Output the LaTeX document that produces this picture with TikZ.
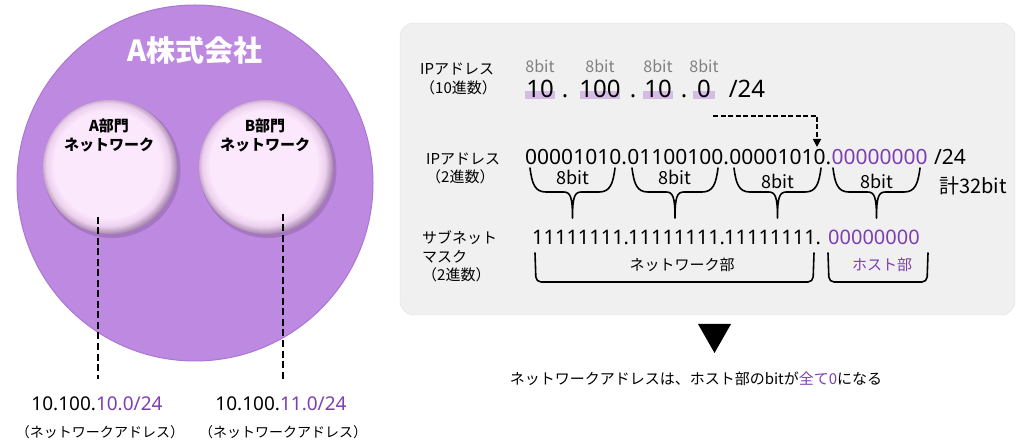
\documentclass[tikz,border=0pt]{standalone}
\usepackage{fontspec}
\setmainfont{Noto Sans CJK JP}
\newfontfamily\numfont{Noto Sans}
\usetikzlibrary{arrows.meta,positioning}

\newcommand{\pxfont}[2]{\fontsize{#1bp}{#2bp}\selectfont}

\definecolor{corp}{RGB}{190,137,225}
\definecolor{corpedge}{RGB}{172,118,212}
\definecolor{deptin}{RGB}{252,232,252}
\definecolor{deptmid}{RGB}{236,208,238}
\definecolor{deptrim}{RGB}{172,142,178}
\definecolor{hostpurple}{RGB}{125,62,178}
\definecolor{octbar}{RGB}{212,188,228}
\definecolor{panelgray}{RGB}{240,240,240}

\pgfdeclareradialshading{deptball}{\pgfpoint{-1.5bp}{1.5bp}}{color(0bp)=(deptin); color(20bp)=(deptin); color(23bp)=(deptmid); color(25.5bp)=(deptrim); color(50bp)=(deptrim)}

\begin{document}
\begin{tikzpicture}[x=1bp, y=-1bp,
	every node/.style={inner sep=0pt},
	deptlab/.style={font=\pxfont{15}{19}\bfseries, align=center},
	rowlab/.style={font=\pxfont{15}{18.5}, align=left, anchor=west},
	addr/.style={font=\numfont\pxfont{19}{22}},
	addrnote/.style={font=\pxfont{14}{17}},
	decnum/.style={font=\numfont\pxfont{24}{28}, anchor=base},
	smallbit/.style={font=\pxfont{16}{18}, text=black!50},
	binbits/.style={font=\numfont\pxfont{21}{24}, anchor=base west},
	bitlab/.style={font=\pxfont{18}{22}, anchor=base},
	partlab/.style={font=\pxfont{15}{18}},
	netline/.style={dash pattern=on 7bp off 3.5bp, line width=1.8bp},
	arrowline/.style={dash pattern=on 5bp off 2.5bp, line width=1.6bp, -{Triangle[length=8bp, width=8bp]}},
	brace/.style={line width=1.6bp, line cap=round, line join=round}]

\useasboundingbox (0,0) rectangle (1024,446);

\fill[corp] (195,183) circle (178);
\draw[corpedge, line width=1bp] (195,183) circle (178);
\node[font=\pxfont{29}{32}\bfseries, text=white] (corpname) at (195,50) {A株式会社};

\foreach \x/\d in {110/A, 266/B} {
	\fill[black, opacity=0.13] (\x+2,169.5) circle (68.5);
	\node[circle, minimum size=134bp, shading=deptball] (dept\d) at (\x,167) {};
	\node[deptlab] (dept\d name) at (\x-1,135.5) {\d 部門\\ネットワーク};
}

\coordinate (deptAend) at (98,217);
\coordinate (addrAtop) at (98,379);
\coordinate (deptBend) at (283,214);
\coordinate (addrBtop) at (283,379);
\draw[netline] (deptAend) -- (addrAtop);
\draw[netline] (deptBend) -- (addrBtop);

\node[addr] (addrA) at (97,404) {10.100.\textcolor{hostpurple}{10.0/24}};
\node[addrnote] (addrAnote) at (100,432) {（ネットワークアドレス）};
\node[addr] (addrB) at (281,404) {10.100.\textcolor{hostpurple}{11.0/24}};
\node[addrnote] (addrBnote) at (283,432) {（ネットワークアドレス）};

\draw[fill=panelgray, draw=black!12, rounded corners=14bp] (400,23) rectangle (1015,315);

\node[rowlab] (ip10) at (420,79) {IPアドレス\\（10進数）};
\node[rowlab] (ip2) at (426,168.5) {IPアドレス\\（2進数）};
\node[rowlab] (mask2) at (422,256.5) {サブネット\\マスク\\（2進数）};

\foreach \v/\x/\w [count=\i] in {10/540/15, 100/600/20, 10/658/15, 0/704/11} {
	\fill[octbar] (\x-\w,91) rectangle (\x+\w,99);
	\node[decnum] (dec\i) at (\x,98) {\v};
	\node[smallbit, above=7bp of dec\i] (decbit\i) {8bit};
}
\foreach \x [count=\i] in {565,633,684} {
	\node[decnum] (decdot\i) at (\x,98) {.};
}
\node[decnum] (decmask) at (747,98) {/24};

\coordinate (arrstart) at (713,116);
\coordinate (arrend) at (817,147);
\draw[arrowline] (arrstart) -| (arrend);

\node[binbits] (bin1) at (525,164.5) {00001010.};
\node[binbits] (bin2) at (bin1.base east) {01100100.};
\node[binbits] (bin3) at (bin2.base east) {00001010.};
\node[binbits, text=hostpurple] (bin4) at (bin3.base east) {00000000};
\node[binbits, xshift=6bp] (binmask) at (bin4.base east) {/24};

\foreach \l/\r/\y [count=\i] in {530/615/184.5, 632/718/184.5, 734/821/189, 833/920/189} {
	\pgfmathsetmacro{\c}{(\l+\r)/2}
	\draw[brace] (\l,168) .. controls (\l+2,184) and (\l+5,192) .. (\l+16,192) -- (\c-9,192)
		.. controls (\c-2,192) and (\c,197) .. (\c,218) .. controls (\c,197) and (\c+2,192) .. (\c+9,192)
		-- (\r-16,192) .. controls (\r-5,192) and (\r-2,184) .. (\r,168);
	\node[bitlab] (bitlab\i) at (\c,\y) {8bit};
}
\node[font=\pxfont{20}{24}] (total) at (973,186) {計32bit};

\foreach \x [count=\i] in {532,628,724} {
	\node[binbits, font=\numfont\pxfont{20}{24}] (mask\i) at (\x,244.5) {11111111.};
}
\node[binbits, font=\numfont\pxfont{20}{24}, text=hostpurple] (mask4) at (828,244.5) {00000000};

\draw[brace, rounded corners=5bp] (535,253) -- (536,282) -- (813,282) -- (814,253);
\node[partlab] (netpart) at (682,265) {ネットワーク部};
\draw[brace, rounded corners=5bp] (828,253) -- (829,282) -- (927,282) -- (928,253);
\node[partlab, text=hostpurple] (hostpart) at (882,265) {ホスト部};

\fill (698,324) -- (731,324) -- (714.5,353) -- cycle;
\node[font=\pxfont{15}{18}] (summary) at (696,379) {ネットワークアドレスは、ホスト部のbitが\textcolor{hostpurple}{全て0}になる};

\end{tikzpicture}
\end{document}
